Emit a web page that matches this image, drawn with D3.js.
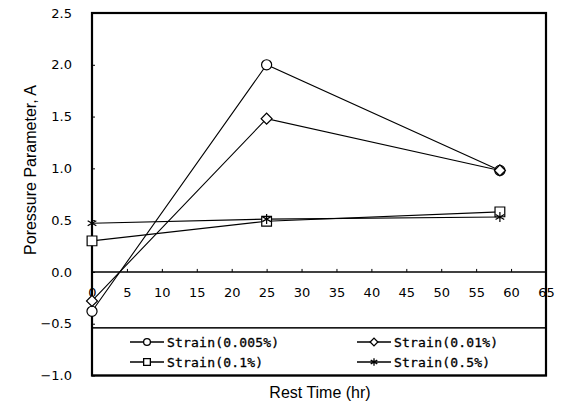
<!DOCTYPE html>
<html><head><meta charset="utf-8">
<script src="https://cdn.jsdelivr.net/npm/d3@7"></script>
<style>body{margin:0;background:#fff}svg{display:block}</style>
</head><body>
<script>
const restTime = [0, 25, 58.4];
const seriesNames = ["Strain(0.005%)", "Strain(0.01%)", "Strain(0.1%)", "Strain(0.5%)"];
const strain0005 = [-0.38, 2.0, 0.98];
const strain001 = [-0.28, 1.48, 0.98];
const strain01 = [0.30, 0.49, 0.58];
const strain05 = [0.47, 0.51, 0.53];
const xTicks = [0,5,10,15,20,25,30,35,40,45,50,55,60,65];
const yTicks = [-1.0,-0.5,0.0,0.5,1.0,1.5,2.0,2.5];
const symbols = [d3.symbolCircle, d3.symbolSquare, d3.symbolSquare, d3.symbolAsterisk];
const symRot = [0, 45, 0, 0];
const symSizes = [80, 60, 95, 70];
const legSizes = [36, 30, 45, 40];
const allSeries = [strain0005, strain001, strain01, strain05];

const W = 561, H = 410;
const svg = d3.select("body").append("svg").attr("width", W).attr("height", H);
const x = d3.scaleLinear().domain([0, 65]).range([92, 546]);
const y = d3.scaleLinear().domain([-1, 2.5]).range([375.5, 13]);

// y axis labels + inner ticks
const yAxis = d3.axisRight(y).tickValues(yTicks).tickSize(3).tickFormat(d3.format(".1f"));
const ya = svg.append("g").attr("transform", `translate(${x(0)},0)`).call(yAxis);
ya.select(".domain").remove();
ya.selectAll("text").attr("x", -20).attr("text-anchor", "end")
  .attr("font-family", "DejaVu Sans").attr("font-size", 13).attr("fill", "#000")
  .text(d => d3.format(".1f")(d).replace("-", "\u2212"));

// zero line axis
const xAxis = d3.axisBottom(x).tickValues(xTicks).tickSize(-3).tickFormat(d3.format("d"));
const xa = svg.append("g").attr("transform", `translate(0,${y(0)})`).call(xAxis);
xa.select(".domain").attr("stroke-width", 1.5).attr("d", `M${x(0)},0H${x(65)}`);
xa.selectAll("text").attr("y", 16).attr("font-family", "DejaVu Sans").attr("font-size", 13).attr("fill", "#000");

// legend box
const legTop = y(-0.54);
svg.append("rect").attr("x", x(0)).attr("y", legTop).attr("width", x(65) - x(0)).attr("height", y(-1) - legTop)
  .attr("fill", "#fff").attr("stroke", "#000").attr("stroke-width", 1.5);

// frame
svg.append("rect").attr("x", x(0)).attr("y", y(2.5)).attr("width", x(65) - x(0)).attr("height", y(-1) - y(2.5))
  .attr("fill", "none").attr("stroke", "#000").attr("stroke-width", 2.2);

// series
const line = d3.line().x((d, i) => x(restTime[i])).y(d => y(d));
allSeries.forEach((s, k) => {
  svg.append("path").datum(s).attr("d", line).attr("fill", "none").attr("stroke", "#000").attr("stroke-width", 1.1);
});
allSeries.forEach((s, k) => {
  svg.selectAll(null).data(s).enter().append("path")
    .attr("transform", (d, i) => `translate(${x(restTime[i])},${y(d)}) rotate(${symRot[k]})`)
    .attr("d", d3.symbol().type(symbols[k]).size(symSizes[k]))
    .attr("fill", k === 3 ? "none" : "#fff").attr("stroke", "#000").attr("stroke-width", 1.2);
});

// legend entries
const legPos = [[130, 342], [357, 342], [130, 362], [357, 362]];
seriesNames.forEach((name, k) => {
  const [lx, ly] = legPos[k];
  const g = svg.append("g").attr("transform", `translate(${lx},${ly})`);
  g.append("line").attr("x1", 0).attr("x2", 34).attr("y1", 0).attr("y2", 0).attr("stroke", "#000").attr("stroke-width", 1.5);
  g.append("path").attr("transform", `translate(17,0) rotate(${symRot[k]})`).attr("d", d3.symbol().type(symbols[k]).size(legSizes[k]))
    .attr("fill", k === 3 ? "none" : "#fff").attr("stroke", "#000").attr("stroke-width", 1.3);
  g.append("text").attr("x", 37).attr("y", 0).attr("dy", "0.36em")
    .attr("font-family", "DejaVu Sans Mono").attr("font-size", 13).attr("fill", "#000")
    .attr("stroke", "#000").attr("stroke-width", 0.3)
    .attr("letter-spacing", 0.2).text(name);
});

// axis titles
svg.append("text").attr("transform", `translate(36,170) rotate(-90)`).attr("text-anchor", "middle")
  .attr("font-family", "Liberation Sans").attr("font-size", 16).attr("fill", "#000").text("Poressure Parameter, A");
svg.append("text").attr("x", 320).attr("y", 398).attr("text-anchor", "middle")
  .attr("font-family", "Liberation Sans").attr("font-size", 16).attr("fill", "#000").text("Rest Time (hr)");
</script>
</body></html>
